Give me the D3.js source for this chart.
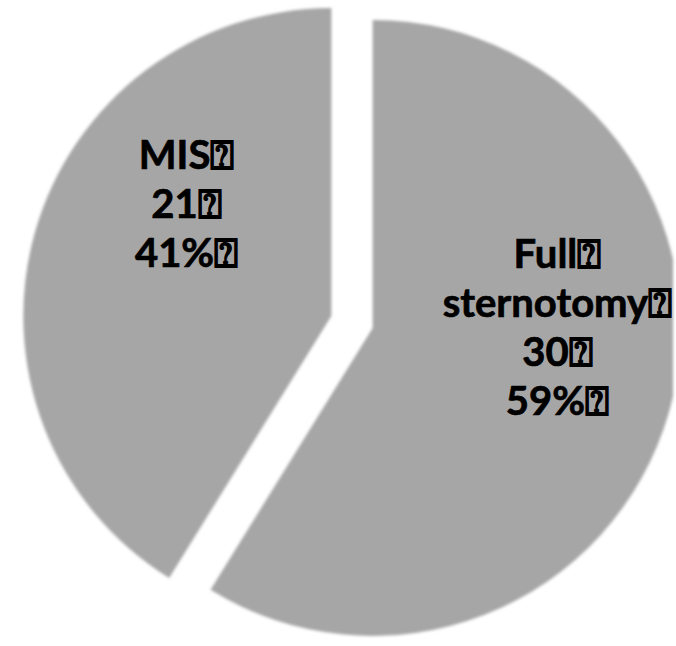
<!DOCTYPE html>
<html>
<head>
<meta charset="utf-8">
<script src="https://cdn.jsdelivr.net/npm/d3@7"></script>
<style>
    html, body { margin: 0; padding: 0; background: #fff; }
    #chart { width: 676px; height: 646px; overflow: hidden; }
    .slice-label {
        font-family: Lato, "Open Sans", sans-serif;
        font-weight: 700;
        fill: #000;
        stroke: #000;
        stroke-width: 0.7px;
    }
</style>
</head>
<body>
<div id="chart"></div>
<script>
// data (first category starts at 12 o'clock, clockwise)
const categories = ['Full sternotomy', 'MIS'];
const counts = [30, 21];
const labelLines = [['Full', 'sternotomy'], ['MIS']];

// layout
const WIDTH = 676;
const HEIGHT = 646;
const PLOT_WIDTH = 673;
const CENTER = { x: 352, y: 322 };
const RADIUS = 308;
const EXPLODE = 21.5;
const SLICE_FILL = '#a6a6a6';
const FONT_SIZE = 40;
const LINE_HEIGHT = 49;
const LABEL_RADIUS_FRACTION = 0.6;
const LABEL_NUDGE = [{ dx: 7, dy: -51 }, { dx: 33, dy: -62 }];
const MISSING = '\u2370';

const svg = d3.select('#chart')
    .append('svg')
    .attr('width', WIDTH)
    .attr('height', HEIGHT);

const defs = svg.append('defs');
defs.append('filter')
    .attr('id', 'soft')
    .attr('filterUnits', 'userSpaceOnUse')
    .attr('x', 0).attr('y', 0)
    .attr('width', WIDTH).attr('height', HEIGHT)
    .append('feGaussianBlur')
    .attr('stdDeviation', 1.4);
defs.append('clipPath')
    .attr('id', 'plot-clip')
    .append('rect')
    .attr('width', PLOT_WIDTH)
    .attr('height', HEIGHT);

const pie = d3.pie().sort(null).value(d => d);
const arcs = pie(counts);
const total = d3.sum(counts);

const arc = d3.arc().innerRadius(0).outerRadius(RADIUS);

// offset each slice along its mid angle
const sliceCenter = a => {
    const mid = (a.startAngle + a.endAngle) / 2;
    return {
        x: CENTER.x + EXPLODE * Math.sin(mid),
        y: CENTER.y - EXPLODE * Math.cos(mid),
        mid
    };
};

// clip first, then soften so the cut edge is blurred too
svg.append('g')
    .attr('filter', 'url(#soft)')
    .append('g')
    .attr('clip-path', 'url(#plot-clip)')
    .selectAll('path')
    .data(arcs)
    .join('path')
    .attr('transform', d => {
        const c = sliceCenter(d);
        return `translate(${c.x},${c.y})`;
    })
    .attr('d', arc)
    .attr('fill', SLICE_FILL);

const fmtPct = d3.format('.0%');

arcs.forEach((d, i) => {
    const c = sliceCenter(d);
    const r = RADIUS * LABEL_RADIUS_FRACTION;
    const x = c.x + r * Math.sin(c.mid) + LABEL_NUDGE[i].dx;
    const midY = c.y - r * Math.cos(c.mid) + LABEL_NUDGE[i].dy;

    const lines = [...labelLines[i], String(counts[i]), fmtPct(counts[i] / total)]
        .map(s => s + MISSING);
    const firstBaseline = midY - (lines.length - 1) * LINE_HEIGHT / 2 + FONT_SIZE * 0.36;

    const text = svg.append('text')
        .attr('class', 'slice-label')
        .attr('text-anchor', 'middle')
        .attr('font-size', FONT_SIZE);

    lines.forEach((line, k) => {
        text.append('tspan')
            .attr('x', x)
            .attr('y', firstBaseline + k * LINE_HEIGHT)
            .text(line);
    });
});
</script>
</body>
</html>
